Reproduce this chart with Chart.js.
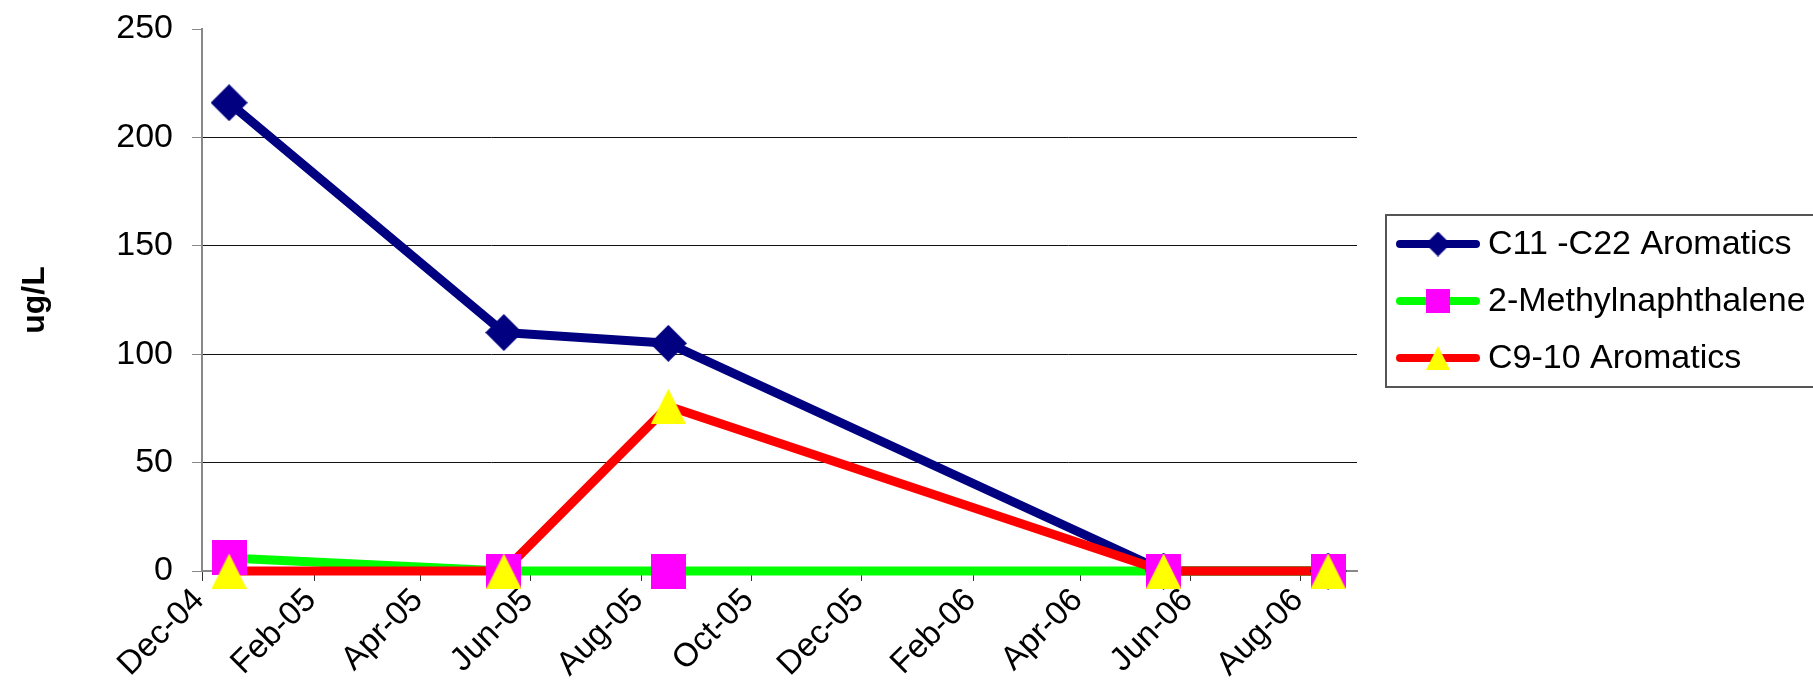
<!DOCTYPE html>
<html>
<head>
<meta charset="utf-8">
<script src="https://cdn.jsdelivr.net/npm/chart.js@4.4.1/dist/chart.umd.min.js"></script>
<style>
html, body { margin: 0; padding: 0; background: #fff; }
</style>
</head>
<body>
<canvas id="myChart" width="1813" height="691"></canvas>
<script>
// series data
var seriesNames = ['C11 -C22 Aromatics', '2-Methylnaphthalene', 'C9-10 Aromatics'];
var sampleDates = ['2004-12-16', '2005-05-17', '2005-08-16', '2006-05-17', '2006-08-16'];
var c11c22 = [216, 110, 105, 0, 0];
var methylnaph = [6, 0, 0, 0, 0];
var c910 = [0, 0, 76, 0, 0];

// axis ticks
var tickDates = ['2004-12-01', '2005-02-01', '2005-04-01', '2005-06-01', '2005-08-01', '2005-10-01',
                 '2005-12-01', '2006-02-01', '2006-04-01', '2006-06-01', '2006-08-01'];
var tickLabels = ['Dec-04', 'Feb-05', 'Apr-05', 'Jun-05', 'Aug-05', 'Oct-05',
                  'Dec-05', 'Feb-06', 'Apr-06', 'Jun-06', 'Aug-06'];
var xStart = '2004-12-01';
var xEnd = '2006-09-01';
var yTicks = [0, 50, 100, 150, 200, 250];

var FONT = "'Liberation Sans', Arial, sans-serif";
Chart.defaults.font.family = FONT;
Chart.defaults.color = '#000';

function day(s) {
    return Date.parse(s + 'T00:00:00Z') / 86400000;
}

function points(values) {
    var pts = [];
    for (var i in values) {
        pts.push({ x: day(sampleDates[i]), y: values[i] });
    }
    return pts;
}

// excel style markers, bounding box centred on the point
function makeMarker(shape, fill, size) {
    var c = document.createElement('canvas');
    c.width = size;
    c.height = size;
    var g = c.getContext('2d');
    g.fillStyle = fill;
    g.beginPath();
    if (shape == 'diamond') {
        g.moveTo(size / 2, 0);
        g.lineTo(size, size / 2);
        g.lineTo(size / 2, size);
        g.lineTo(0, size / 2);
    } else if (shape == 'square') {
        g.rect(0, 0, size, size);
    } else {
        g.moveTo(size / 2, 0);
        g.lineTo(size, size);
        g.lineTo(0, size);
    }
    g.closePath();
    g.fill();
    return c;
}

var lineColors = ['#000080', '#00ff00', '#ff0000'];
var markerShapes = ['diamond', 'square', 'triangle'];
var markerFills = ['#000080', '#ff00ff', '#ffff00'];
var markerSizes = [37, 35, 35];
var seriesValues = [c11c22, methylnaph, c910];

var datasets = [];
// lines first (drawn underneath), then markers on top
for (var i = 0; i < 3; i++) {
    datasets.push({
        label: seriesNames[i],
        data: points(seriesValues[i]),
        showLine: true,
        borderColor: lineColors[i],
        borderWidth: 9,
        borderJoinStyle: 'round',
        borderCapStyle: 'round',
        pointRadius: 0,
        fill: false,
        clip: false,
        order: 6 - i
    });
}
for (var i = 0; i < 3; i++) {
    datasets.push({
        label: seriesNames[i] + ' markers',
        data: points(seriesValues[i]),
        showLine: false,
        pointStyle: makeMarker(markerShapes[i], markerFills[i], markerSizes[i]),
        pointRadius: 17,
        clip: false,
        order: 3 - i
    });
}

var legendMarkers = [
    makeMarker('diamond', markerFills[0], 25),
    makeMarker('square', markerFills[1], 24),
    makeMarker('triangle', markerFills[2], 24)
];

var excelLegend = {
    id: 'excelLegend',
    afterDraw: function (chart) {
        var ctx = chart.ctx;
        ctx.save();
        ctx.strokeStyle = '#555';
        ctx.lineWidth = 2;
        ctx.strokeRect(1386, 215, 460, 172);
        var rows = [244, 301, 358];
        for (var i = 0; i < 3; i++) {
            var y = rows[i];
            ctx.strokeStyle = lineColors[i];
            ctx.lineWidth = 8;
            ctx.lineCap = 'round';
            ctx.beginPath();
            ctx.moveTo(1400, y);
            ctx.lineTo(1476, y);
            ctx.stroke();
            var m = legendMarkers[i];
            ctx.drawImage(m, 1438 - m.width / 2, y - m.height / 2);
            ctx.fillStyle = '#000';
            ctx.font = '34px ' + FONT;
            ctx.textBaseline = 'middle';
            ctx.textAlign = 'left';
            ctx.fillText(chart.data.datasets[i].label, 1488, y + 1);
        }
        ctx.restore();
    }
};

var ctx = document.getElementById('myChart');
var lineGraph = new Chart(ctx, {
    type: 'scatter',
    data: { datasets: datasets },
    plugins: [excelLegend],
    options: {
        responsive: false,
        animation: false,
        events: [],
        layout: {
            padding: { top: 29, right: 456, bottom: 0, left: 0 }
        },
        plugins: {
            legend: { display: false },
            tooltip: { enabled: false },
            title: { display: false }
        },
        scales: {
            x: {
                type: 'linear',
                min: day(xStart),
                max: day(xEnd),
                afterBuildTicks: function (scale) {
                    scale.ticks = tickDates.map(function (d) { return { value: day(d) }; });
                },
                afterFit: function (scale) {
                    scale.height = 120;
                },
                ticks: {
                    autoSkip: false,
                    minRotation: 45,
                    maxRotation: 45,
                    padding: 14,
                    labelOffset: -3,
                    color: '#000',
                    font: { size: 33, lineHeight: 0 },
                    callback: function (value, index) {
                        return tickLabels[index];
                    }
                },
                grid: {
                    drawOnChartArea: false,
                    drawTicks: true,
                    tickLength: 10,
                    tickColor: '#333'
                },
                border: { color: '#888', width: 2 }
            },
            y: {
                min: 0,
                max: 250,
                afterBuildTicks: function (scale) {
                    scale.ticks = yTicks.map(function (v) { return { value: v }; });
                },
                afterFit: function (scale) {
                    scale.width = 202;
                    scale.paddingTop = 0;
                    scale.paddingBottom = 0;
                },
                ticks: {
                    padding: 19,
                    color: '#000',
                    font: { size: 34 }
                },
                grid: {
                    color: function (c) {
                        if (c.tick && (c.tick.value === 0 || c.tick.value === 250)) return 'rgba(0,0,0,0)';
                        return '#111';
                    },
                    lineWidth: 1,
                    tickLength: 10,
                    tickColor: '#888'
                },
                border: { color: '#888', width: 2 },
                title: {
                    display: true,
                    text: 'ug/L',
                    color: '#000',
                    font: { size: 32, weight: 'bold' },
                    padding: { top: 16, bottom: 0 }
                }
            }
        }
    }
});
</script>
</body>
</html>
